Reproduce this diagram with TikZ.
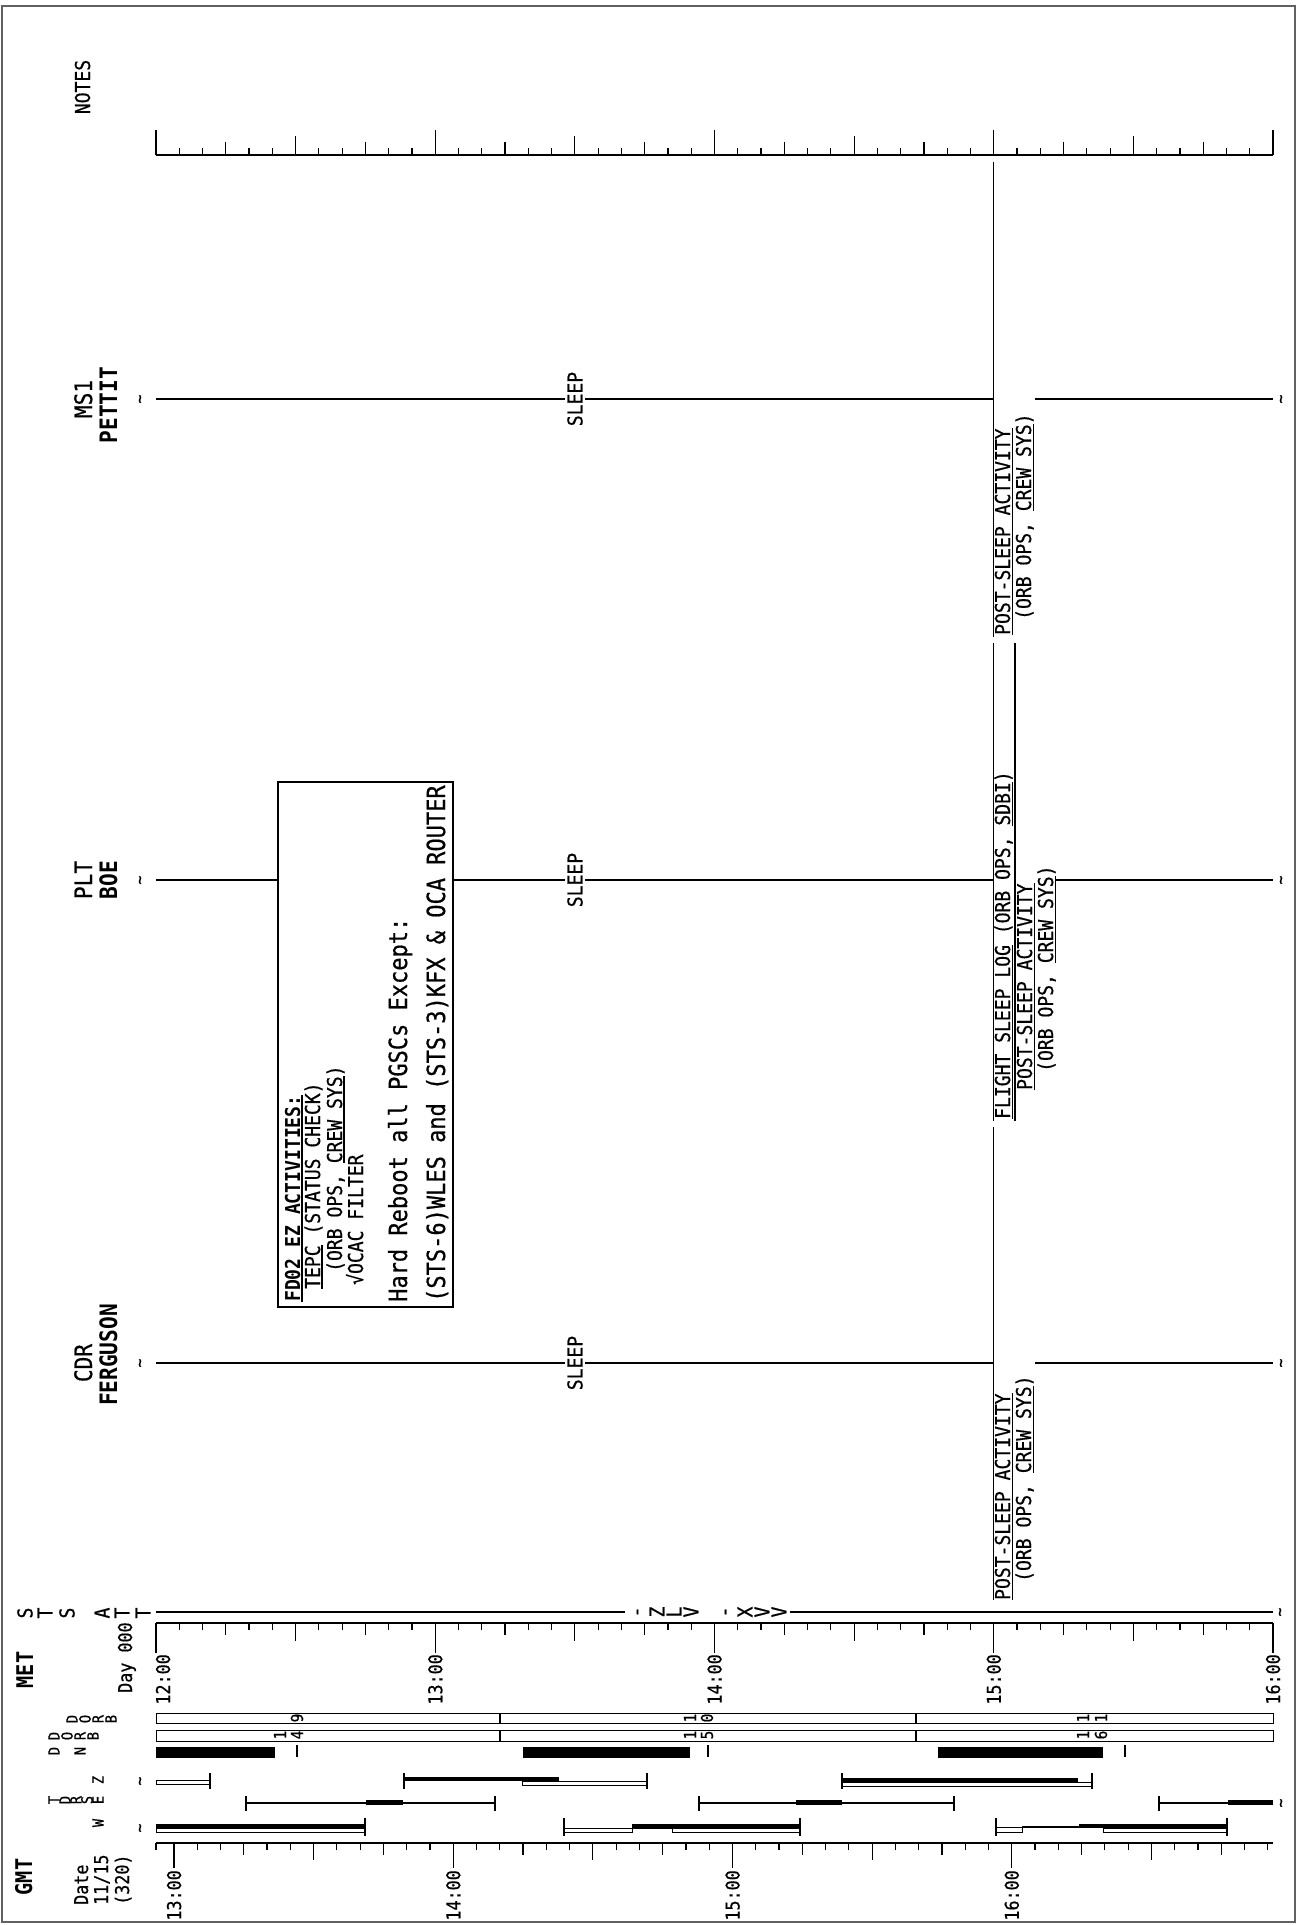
\documentclass[tikz,border=0pt]{standalone}
\usepackage{fontspec}
\setmainfont[FakeStretch=0.88,UprightFeatures={FakeBold=0.6}]{DejaVu Sans Mono}
\usetikzlibrary{positioning}

\newcommand{\fxs}{\fontsize{15.5pt}{17pt}\selectfont}
\newcommand{\fsm}{\fontsize{16.5pt}{18pt}\selectfont}
\newcommand{\ftm}{\fontsize{19pt}{21pt}\selectfont}
\newcommand{\fmd}{\fontsize{20.5pt}{22pt}\selectfont}
\newcommand{\fbx}{\fontsize{25pt}{27pt}\selectfont}
\newcommand{\flg}{\fontsize{24pt}{26pt}\selectfont}
\newcommand{\ul}[1]{\vtop{\hbox{#1}\kern1.2pt\hrule height 1.1pt}}

\tikzset{
  frame/.style={draw=black!62,line width=2.2pt},
  rule/.style={black,line width=1.2pt},
  tick/.style={black,line width=1.2pt},
  txt/.style={rotate=90,anchor=base west,inner sep=0pt,font=\fmd},
  ctxt/.style={rotate=90,anchor=base,inner sep=0pt,font=\fmd},
  etxt/.style={rotate=90,anchor=base east,inner sep=0pt,font=\ftm},
  crew/.style={ctxt,font=\flg},
  crewname/.style={ctxt,font=\flg\bfseries},
  sleep/.style={rotate=90,fill=white,inner xsep=0pt,inner ysep=2.5pt,font=\fmd},
  tilde/.style={rotate=90,inner sep=0pt,font=\fsm},
  glyph/.style={rotate=90,inner sep=0pt,font=\fmd},
  hdrglyph/.style={rotate=90,inner sep=0pt,font=\fxs},
  digit/.style={rotate=90,inner sep=0pt,font=\fsm},
  obar/.style={draw=black,line width=1pt,fill=white},
  sband/.style={fill=black},
  kuband/.style={draw=black,line width=1pt,fill=white},
}

\begin{document}
\begin{tikzpicture}[x=1pt,y=-1pt]
  \path[use as bounding box] (0,0) rectangle (1298,1925);
  \draw[frame] (2,6) rectangle (1295,1922);

  % notes column scale
  \node[ctxt] (notes) at (90,87) {NOTES};
  \draw[rule] (156,155) -- (1273,155);
  \foreach \i in {0,...,48}{
    \pgfmathsetmacro{\tx}{156+\i*279.25/12}
    \pgfmathsetmacro{\tl}{ifthenelse(mod(\i,12)==0,25,ifthenelse(mod(\i,6)==0,19,ifthenelse(mod(\i,3)==0,13,7)))}
    \draw[tick] (\tx,155) -- ++(0,-\tl);
  }

  % crew headers
  \node[crew] (cdr) at (92,1363) {CDR};
  \node[crewname] (ferguson) at (117,1355) {FERGUSON};
  \node[crew] (plt) at (92,880) {PLT};
  \node[crewname] (boe) at (117,880) {BOE};
  \node[crew] (ms1) at (92,399) {MS1};
  \node[crewname] (pettit) at (117,405) {PETTIT};

  % sleep lines
  \draw[rule] (156,1363) -- (993.75,1363);
  \draw[rule] (1035,1363) -- (1273,1363);
  \draw[rule] (156,880) -- (993.75,880);
  \draw[rule] (1056,880) -- (1273,880);
  \draw[rule] (156,399) -- (993.75,399);
  \draw[rule] (1035,399) -- (1273,399);
  \foreach \y/\n in {1363/cdr,880/plt,399/ms}{
    \node[tilde] (\n l) at (142,\y) {\textasciitilde};
    \node[tilde] (\n r) at (1283,\y) {\textasciitilde};
    \node[sleep] (\n sleep) at (575,\y) {SLEEP};
  }

  % FD02 box
  \draw[rule,fill=white] (278,782) rectangle (453,1307);
  \node[txt,font=\fmd\bfseries] (ezhead) at (300,1302) {\ul{FD02 EZ ACTIVITIES:}};
  \node[txt] (tepc) at (320,1289) {\ul{TEPC} (STATUS CHECK)};
  \node[txt] (tepcorb) at (342,1272) {(ORB OPS, \ul{CREW SYS})};
  \node[txt] (ocac) at (363,1285) {√OCAC FILTER};
  \node[txt,font=\fbx] (reboot) at (407,1302) {Hard Reboot all PGSCs Except:};
  \node[txt,font=\fbx] (except) at (445,1302) {(STS-6)WLES and (STS-3)KFX \& OCA ROUTER};

  % 15:00 start lines
  \draw[rule] (993.75,162) -- (993.75,637);
  \draw[rule] (993.75,643) -- (993.75,1121);
  \draw[rule] (993.75,1127) -- (993.75,1600);
  \draw[rule] (1015,643) -- (1015,1121);

  \node[txt] (cdrpost) at (1010,1600) {\ul{POST-SLEEP ACTIVITY}};
  \node[txt] (cdrorb) at (1031,1582) {(ORB OPS, \ul{CREW SYS})};
  \node[txt] (pltlog) at (1010,1119) {\ul{FLIGHT SLEEP LOG} (ORB OPS, \ul{SDBI})};
  \node[txt] (pltpost) at (1032,1090) {\ul{POST-SLEEP ACTIVITY}};
  \node[txt] (pltorb) at (1053,1072) {(ORB OPS, \ul{CREW SYS})};
  \node[txt] (mspost) at (1010,635) {\ul{POST-SLEEP ACTIVITY}};
  \node[txt] (msorb) at (1031,620) {(ORB OPS, \ul{CREW SYS})};

  % STS attitude
  \foreach \c/\x in {S/25,T/45,S/67,A/102,T/122,T/143}
    \node[glyph] (att\x) at (\x,1613) {\c};
  \draw[rule] (156,1612) -- (625,1612);
  \draw[rule] (790,1612) -- (1273,1612);
  \node[tilde] (attr) at (1282,1612) {\textasciitilde};
  \foreach \c/\x in {-/640,Z/657,L/674,V/691,-/728,X/745,V/762,V/779}
    \node[glyph] (lv\x) at (\x,1612) {\c};

  % MET scale
  \node[crewname,font=\fontsize{23pt}{25pt}\selectfont\bfseries] (met) at (33,1670) {MET};
  \node[txt,font=\ftm] (day) at (132,1693) {Day 000};
  \draw[rule] (156,1623) -- (1273,1623);
  \foreach \i in {0,...,48}{
    \pgfmathsetmacro{\tx}{156+\i*279.25/12}
    \pgfmathsetmacro{\tl}{ifthenelse(mod(\i,12)==0,30,ifthenelse(mod(\i,6)==0,18,ifthenelse(mod(\i,3)==0,12,7)))}
    \draw[tick] (\tx,1623) -- ++(0,\tl);
  }
  \node[etxt] (met12) at (170,1654) {12:00};
  \foreach \h in {13,14,15,16}
    \node[etxt] (met\h) at ({156+(\h-12)*279.25+7},1654) {\h:00};

  % orbit and day/night
  \foreach \c/\x in {D/72,O/85,R/98,B/111}
    \node[hdrglyph] (orbl\x) at (\x,1719) {\c};
  \foreach \c/\x in {D/54,O/67,R/80,B/93}
    \node[hdrglyph] (dodl\x) at (\x,1736) {\c};
  \foreach \c/\x in {D/54,//67,N/80}
    \node[hdrglyph] (dnl\x) at (\x,1751) {\c};
  \draw[obar] (156,1713) rectangle (1273,1723);
  \draw[obar] (156,1730) rectangle (1273,1741);
  \foreach \x in {500,916}{
    \draw[tick] (\x,1713) -- (\x,1723);
    \draw[tick] (\x,1730) -- (\x,1741);
  }
  \foreach \c/\x/\y in {9/297/1718,1/690/1718,0/707/1718,1/1083/1718,1/1101/1718,
                        1/280/1735,4/297/1735,1/690/1735,5/707/1735,1/1083/1735,6/1101/1735}
    \node[digit] (orb\x\y) at (\x,\y) {\c};
  \fill[sband] (156,1747) rectangle (275,1758);
  \fill[sband] (523,1747) rectangle (690,1758);
  \fill[sband] (938,1747) rectangle (1103,1758);
  \foreach \x in {297,708,1125}
    \draw[tick] (\x,1745) -- (\x,1757);

  % TDRS
  \foreach \c/\x in {T/54,D/65,R/76,S/87,E/98}
    \node[hdrglyph] (tdrs\x) at (\x,1800) {\c};
  \node[hdrglyph] (tz) at (98,1780) {Z};
  \node[hdrglyph] (tw) at (98,1823) {W};
  \node[tilde] (tzl) at (142,1781) {\textasciitilde};
  \node[tilde] (tel) at (1283,1803) {\textasciitilde};
  \node[tilde] (twl) at (142,1828) {\textasciitilde};
  % zenith
  \draw[kuband] (156,1780) rectangle (210,1784);
  \draw[tick] (210,1773) -- (210,1789);
  \fill[sband] (404,1777) rectangle (559,1781);
  \draw[kuband] (522,1781) rectangle (647,1785);
  \draw[tick] (404,1773) -- (404,1789);
  \draw[tick] (647,1773) -- (647,1789);
  \fill[sband] (842,1778) rectangle (1078,1782);
  \draw[kuband] (842,1782) rectangle (1092,1786);
  \draw[tick] (842,1773) -- (842,1789);
  \draw[tick] (1092,1773) -- (1092,1789);
  % east
  \draw[rule] (246,1803) -- (495,1803);
  \fill[sband] (366,1800) rectangle (403,1805);
  \draw[tick] (246,1796) -- (246,1811);
  \draw[tick] (495,1796) -- (495,1811);
  \draw[rule] (699,1803) -- (954,1803);
  \fill[sband] (796,1800) rectangle (842,1805);
  \draw[tick] (699,1796) -- (699,1811);
  \draw[tick] (954,1796) -- (954,1811);
  \draw[rule] (1159,1803) -- (1273,1803);
  \fill[sband] (1228,1800) rectangle (1273,1805);
  \draw[tick] (1159,1796) -- (1159,1811);
  % west
  \fill[sband] (156,1824) rectangle (365,1828);
  \draw[kuband] (156,1828) rectangle (365,1832);
  \draw[tick] (365,1818) -- (365,1836);
  \draw[kuband] (564,1828) rectangle (632,1832);
  \draw[rule] (632,1828) -- (672,1828);
  \fill[sband] (632,1824) rectangle (800,1828);
  \draw[kuband] (672,1828) rectangle (800,1832);
  \draw[tick] (564,1818) -- (564,1836);
  \draw[tick] (800,1818) -- (800,1836);
  \draw[kuband] (996,1827) rectangle (1022,1832);
  \draw[rule] (1022,1827) -- (1079,1827);
  \fill[sband] (1079,1824) rectangle (1227,1828);
  \draw[kuband] (1103,1828) rectangle (1227,1832);
  \draw[tick] (996,1818) -- (996,1836);
  \draw[tick] (1227,1818) -- (1227,1836);

  % GMT scale
  \node[crewname,font=\fontsize{23pt}{25pt}\selectfont\bfseries] (gmt) at (32,1877) {GMT};
  \node[txt,font=\ftm] (date) at (88,1905) {Date};
  \node[txt,font=\ftm] (gdate) at (108,1905) {11/15};
  \node[txt,font=\ftm] (gday) at (129,1905) {(320)};
  \draw[rule] (156,1843) -- (1273,1843);
  \draw[tick] (156,1843) -- ++(0,7);
  \foreach \i in {0,...,47}{
    \pgfmathsetmacro{\tx}{174+\i*279.25/12}
    \pgfmathsetmacro{\tl}{ifthenelse(mod(\i,12)==0,25,ifthenelse(mod(\i,6)==0,17,ifthenelse(mod(\i,3)==0,12,7)))}
    \draw[tick] (\tx,1843) -- ++(0,\tl);
  }
  \foreach \h in {13,14,15,16}
    \node[etxt] (gmt\h) at ({174+(\h-13)*279.25+7},1870) {\h:00};
\end{tikzpicture}
\end{document}
